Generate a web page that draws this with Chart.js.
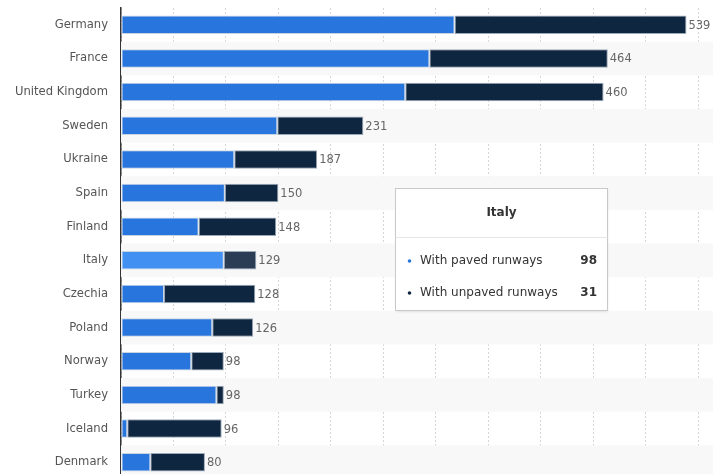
<!DOCTYPE html>
<html>
<head>
<meta charset="utf-8">
<script src="https://cdn.jsdelivr.net/npm/chart.js@4"></script>
<style>
html, body { margin: 0; padding: 0; background: #fff; overflow: hidden; }
#wrap { position: relative; width: 713px; height: 474px; overflow: hidden; }
#wrap canvas { display: block; }
</style>
</head>
<body>
<div id="wrap"><canvas id="runwayChart" width="713" height="482"></canvas></div>
<script>
// airports by runway type, Europe
const countries = ['Germany', 'France', 'United Kingdom', 'Sweden', 'Ukraine', 'Spain', 'Finland',
  'Italy', 'Czechia', 'Poland', 'Norway', 'Turkey', 'Iceland', 'Denmark'];
const paved   = [318, 294, 271, 149, 108, 99, 74, 98, 41, 87, 67, 91, 6, 28];
const unpaved = [221, 170, 189, 82, 79, 51, 74, 31, 87, 39, 31, 7, 90, 52];
const seriesNames = ['With paved runways', 'With unpaved runways'];
const xTicks = [0, 50, 100, 150, 200, 250, 300, 350, 400, 450, 500, 550];
const hovered = 'Italy';

const BLUE = '#2876dd', NAVY = '#0f2640';
const BLUE_HI = '#4190f2', NAVY_HI = '#2a3d54';
const hi = countries.indexOf(hovered);

const zebra = {
  id: 'zebra',
  beforeDatasetsDraw(chart) {
    const { ctx, chartArea, scales: { y } } = chart;
    const step = y.getPixelForValue(1) - y.getPixelForValue(0);
    ctx.save();
    ctx.fillStyle = '#f8f8f8';
    countries.forEach((c, i) => {
      if (i % 2 === 1) {
        const cy = y.getPixelForValue(i);
        ctx.fillRect(chartArea.left, cy - step / 2, chart.width - chartArea.left, step);
      }
    });
    ctx.restore();
  }
};

const totals = {
  id: 'totals',
  afterDatasetsDraw(chart) {
    const { ctx } = chart;
    const meta = chart.getDatasetMeta(1);
    ctx.save();
    ctx.font = '11.5px "DejaVu Sans"';
    ctx.fillStyle = '#666';
    ctx.textBaseline = 'middle';
    meta.data.forEach((bar, i) => {
      ctx.fillText(String(paved[i] + unpaved[i]), bar.x + 2, bar.y + 1);
    });
    ctx.restore();
  }
};

const hoverBox = {
  id: 'hoverBox',
  afterDraw(chart) {
    const { ctx } = chart;
    const x = 395.5, y = 188.5, w = 212, h = 122;
    ctx.save();
    ctx.shadowColor = 'rgba(0,0,0,0.12)';
    ctx.shadowBlur = 3;
    ctx.shadowOffsetY = 1;
    ctx.fillStyle = '#fff';
    ctx.fillRect(x, y, w, h);
    ctx.shadowColor = 'transparent';
    ctx.strokeStyle = '#c9c9c9';
    ctx.lineWidth = 1;
    ctx.strokeRect(x, y, w, h);
    ctx.strokeStyle = '#e6e6e6';
    ctx.beginPath();
    ctx.moveTo(x, 237.5);
    ctx.lineTo(x + w, 237.5);
    ctx.stroke();

    ctx.fillStyle = '#333';
    ctx.textBaseline = 'middle';
    ctx.textAlign = 'center';
    ctx.font = 'bold 12px "DejaVu Sans"';
    ctx.fillText(countries[hi], x + w / 2, 213);

    const rows = [[seriesNames[0], paved[hi], BLUE], [seriesNames[1], unpaved[hi], NAVY]];
    rows.forEach((r, k) => {
      const ry = 261 + k * 32;
      ctx.fillStyle = r[2];
      ctx.beginPath();
      ctx.arc(409.5, ry, 1.8, 0, Math.PI * 2);
      ctx.fill();
      ctx.fillStyle = '#333';
      ctx.textAlign = 'left';
      ctx.font = '12px "DejaVu Sans"';
      ctx.fillText(r[0], 420, ry);
      ctx.textAlign = 'right';
      ctx.font = 'bold 12px "DejaVu Sans"';
      ctx.fillText(String(r[1]), 597, ry);
    });
    ctx.restore();
  }
};

const colorsFor = (base, hiColor) => countries.map((c, i) => i === hi ? hiColor : base);

new Chart(document.getElementById('runwayChart').getContext('2d'), {
  type: 'bar',
  data: {
    labels: countries,
    datasets: [
      { label: seriesNames[0], data: paved, backgroundColor: colorsFor(BLUE, BLUE_HI),
        borderColor: '#c8d4e2', borderWidth: 1, borderSkipped: false,
        barPercentage: 0.55, categoryPercentage: 1 },
      { label: seriesNames[1], data: unpaved, backgroundColor: colorsFor(NAVY, NAVY_HI),
        borderColor: '#9aa8b8', borderWidth: 1, borderSkipped: false,
        barPercentage: 0.55, categoryPercentage: 1 }
    ]
  },
  options: {
    indexAxis: 'y',
    responsive: false,
    animation: false,
    events: [],
    layout: { padding: { top: 8, right: 15, bottom: 3, left: 0 } },
    plugins: { legend: { display: false }, tooltip: { enabled: false } },
    scales: {
      x: {
        stacked: true, min: 0, max: 550,
        afterBuildTicks: s => { s.ticks = xTicks.map(v => ({ value: v })); },
        afterFit: s => { s.height = 0; s.paddingLeft = 0; s.paddingRight = 0; },
        ticks: { display: false },
        grid: { color: '#d6d6d6', lineWidth: 1, drawTicks: false },
        border: { display: false, dash: [2, 2] }
      },
      y: {
        stacked: true,
        afterFit: s => { s.width = 121; s.paddingTop = 0; s.paddingBottom = 0; },
        ticks: { color: '#555', font: { family: 'DejaVu Sans', size: 11.6 }, padding: 13 },
        grid: { display: false, drawTicks: false },
        border: { display: true, color: '#333', width: 1.5 }
      }
    }
  },
  plugins: [zebra, totals, hoverBox]
});
</script>
</body>
</html>
